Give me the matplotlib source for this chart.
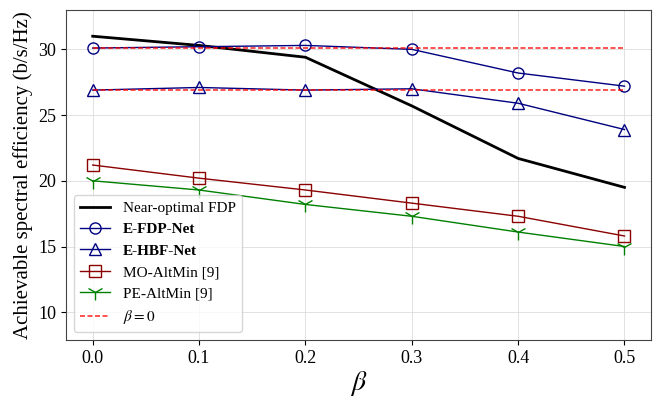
import matplotlib
matplotlib.use('Agg')
import matplotlib.pyplot as plt

plt.rcParams['font.family'] = ['Liberation Serif', 'DejaVu Serif']
plt.rcParams['mathtext.fontset'] = 'stix'

beta = [0.0, 0.1, 0.2, 0.3, 0.4, 0.5]
near_opt = [31.0, 30.3, 29.4, 25.7, 21.7, 19.5]
efdp = [30.1, 30.2, 30.3, 30.0, 28.2, 27.2]
ehbf = [26.9, 27.1, 26.9, 27.0, 25.9, 23.9]
mo_altmin = [21.2, 20.2, 19.3, 18.3, 17.3, 15.8]
pe_altmin = [20.0, 19.3, 18.2, 17.3, 16.1, 15.0]
fdp_beta0 = 30.1
hbf_beta0 = 26.9

fig = plt.figure(figsize=(6.61, 3.97), dpi=100)
ax = fig.add_axes([0.1, 0.144, 0.885, 0.831])

ax.plot(beta, near_opt, color='black', lw=2, label='Near-optimal FDP')
ax.plot(beta, efdp, color='navy', lw=1, marker='o', ms=8, mfc='none', label='E-FDP-Net')
ax.plot(beta, ehbf, color='navy', lw=1, marker='^', ms=8, mfc='none', label='E-HBF-Net')
ax.plot(beta, mo_altmin, color='darkred', lw=1, marker='s', ms=8, mfc='none', label='MO-AltMin [9]')
ax.plot(beta, pe_altmin, color='green', lw=1, marker='1', ms=12, label='PE-AltMin [9]')
ax.plot(beta, [fdp_beta0] * len(beta), color='red', lw=1.2, ls=(0, (3, 1.5)), alpha=0.8, label=r'$\beta=0$')
ax.plot(beta, [hbf_beta0] * len(beta), color='red', lw=1.2, ls=(0, (3, 1.5)), alpha=0.8)

ax.set_xticks(beta)
ax.set_ylim(7.9, 33.0)
ax.set_yticks([10, 15, 20, 25, 30])
ax.tick_params(labelsize=13)
ax.grid(True, color='#dddddd', lw=0.6)
ax.set_xlabel(r'$\beta$', fontsize=20, labelpad=2)
ax.set_ylabel('Achievable spectral efficiency (b/s/Hz)', fontsize=15, labelpad=4)
for s in ax.spines.values():
    s.set_color('#444444')

leg = ax.legend(loc='lower left', fontsize=11)
for t in leg.get_texts()[1:3]:
    t.set_fontweight('bold')

fig.savefig('out.png', dpi=100)
